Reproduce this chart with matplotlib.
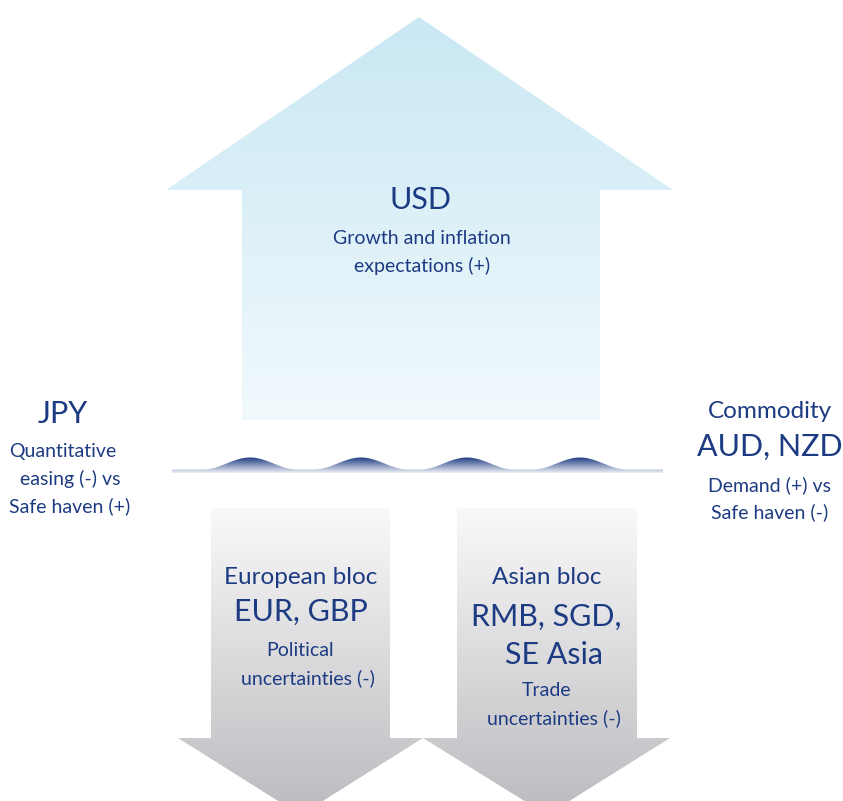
import numpy as np
import matplotlib.pyplot as plt
from matplotlib.patches import Polygon
from matplotlib.colors import LinearSegmentedColormap

plt.rcParams['font.family'] = ['Lato', 'DejaVu Sans']

# Text content of the diagram
usd_title = "USD"
usd_lines = ["Growth and inflation", "expectations (+)"]
jpy_title = "JPY"
jpy_lines = ["Quantitative", "easing (-) vs", "Safe haven (+)"]
comm_title = ["Commodity", "AUD, NZD"]
comm_lines = ["Demand (+) vs", "Safe haven (-)"]
eur_lines = ["European bloc", "EUR, GBP", "Political", "uncertainties (-)"]
asia_lines = ["Asian bloc", "RMB, SGD,", "SE Asia", "Trade", "uncertainties (-)"]

# wave bump centres along the divider
wave_centres = [250, 361, 467, 580]

navy = '#1d3b82'
W, H = 843, 801

fig = plt.figure(figsize=(W / 100, H / 100), dpi=100)
ax = fig.add_axes([0, 0, 1, 1])
ax.set_xlim(0, W)
ax.set_ylim(H, 0)
ax.axis('off')


def gradient_poly(pts, c_top, c_bot, y0, y1):
    poly = Polygon(pts, closed=True, facecolor='none', edgecolor='none')
    ax.add_patch(poly)
    cmap = LinearSegmentedColormap.from_list('g', [c_top, c_bot])
    grad = np.linspace(0, 1, 256).reshape(-1, 1)
    xs = [p[0] for p in pts]
    im = ax.imshow(grad, cmap=cmap, aspect='auto', interpolation='bilinear',
                   extent=[min(xs), max(xs), y1, y0], zorder=1)
    im.set_clip_path(poly)


# up arrow (USD)
up = [(419, 17), (673, 190), (600, 190), (600, 420), (242, 420), (242, 190), (166, 190)]
gradient_poly(up, '#c9e8f4', '#f1f9fc', 17, 420)

# down arrows
def down_arrow(x0, x1, hl, hr):
    cx = (x0 + x1) / 2
    return [(x0, 508), (x1, 508), (x1, 738), (hr, 738), (cx, 815), (hl, 738), (x0, 738)]

gradient_poly(down_arrow(211, 390, 178, 423), '#f9f9fa', '#bebdc1', 508, 801)
gradient_poly(down_arrow(457, 637, 423, 670), '#f9f9fa', '#bebdc1', 508, 801)

# wave divider
xs = np.linspace(172, 663, 600)
top = np.full_like(xs, 469.5)
for c in wave_centres:
    d = np.abs(xs - c)
    bump = np.where(d < 47, 0.5 + 0.5 * np.cos(np.pi * d / 47), 0)
    top = top - 12 * bump
wave_pts = list(zip(xs, top)) + [(663, 473), (172, 473)]
gradient_poly(wave_pts, '#1b3a80', '#eff0f7', 457, 473)

# texts
def t(x, y, s, size):
    ax.text(x, y, s, ha='center', va='center', fontsize=size, color=navy, zorder=3)

big, mid, small = 22, 17.5, 14

t(421, 200, usd_title, big)
t(422, 238, usd_lines[0], small)
t(422, 266, usd_lines[1], small)

t(63, 414, jpy_title, big)
t(63, 452, jpy_lines[0], small)
t(70, 479, jpy_lines[1], small)
t(70, 506, jpy_lines[2], small)

t(770, 412, comm_title[0], mid)
t(770, 447, comm_title[1], big)
t(770, 485, comm_lines[0], small)
t(770, 512, comm_lines[1], small)

t(301, 577, eur_lines[0], mid)
t(301, 612, eur_lines[1], big)
t(300, 650, eur_lines[2], small)
t(308, 678, eur_lines[3], small)

t(547, 577, asia_lines[0], mid)
t(546, 617, asia_lines[1], big)
t(554, 655, asia_lines[2], big)
t(547, 690, asia_lines[3], small)
t(554, 718, asia_lines[4], small)

fig.savefig('out.png', dpi=100)
